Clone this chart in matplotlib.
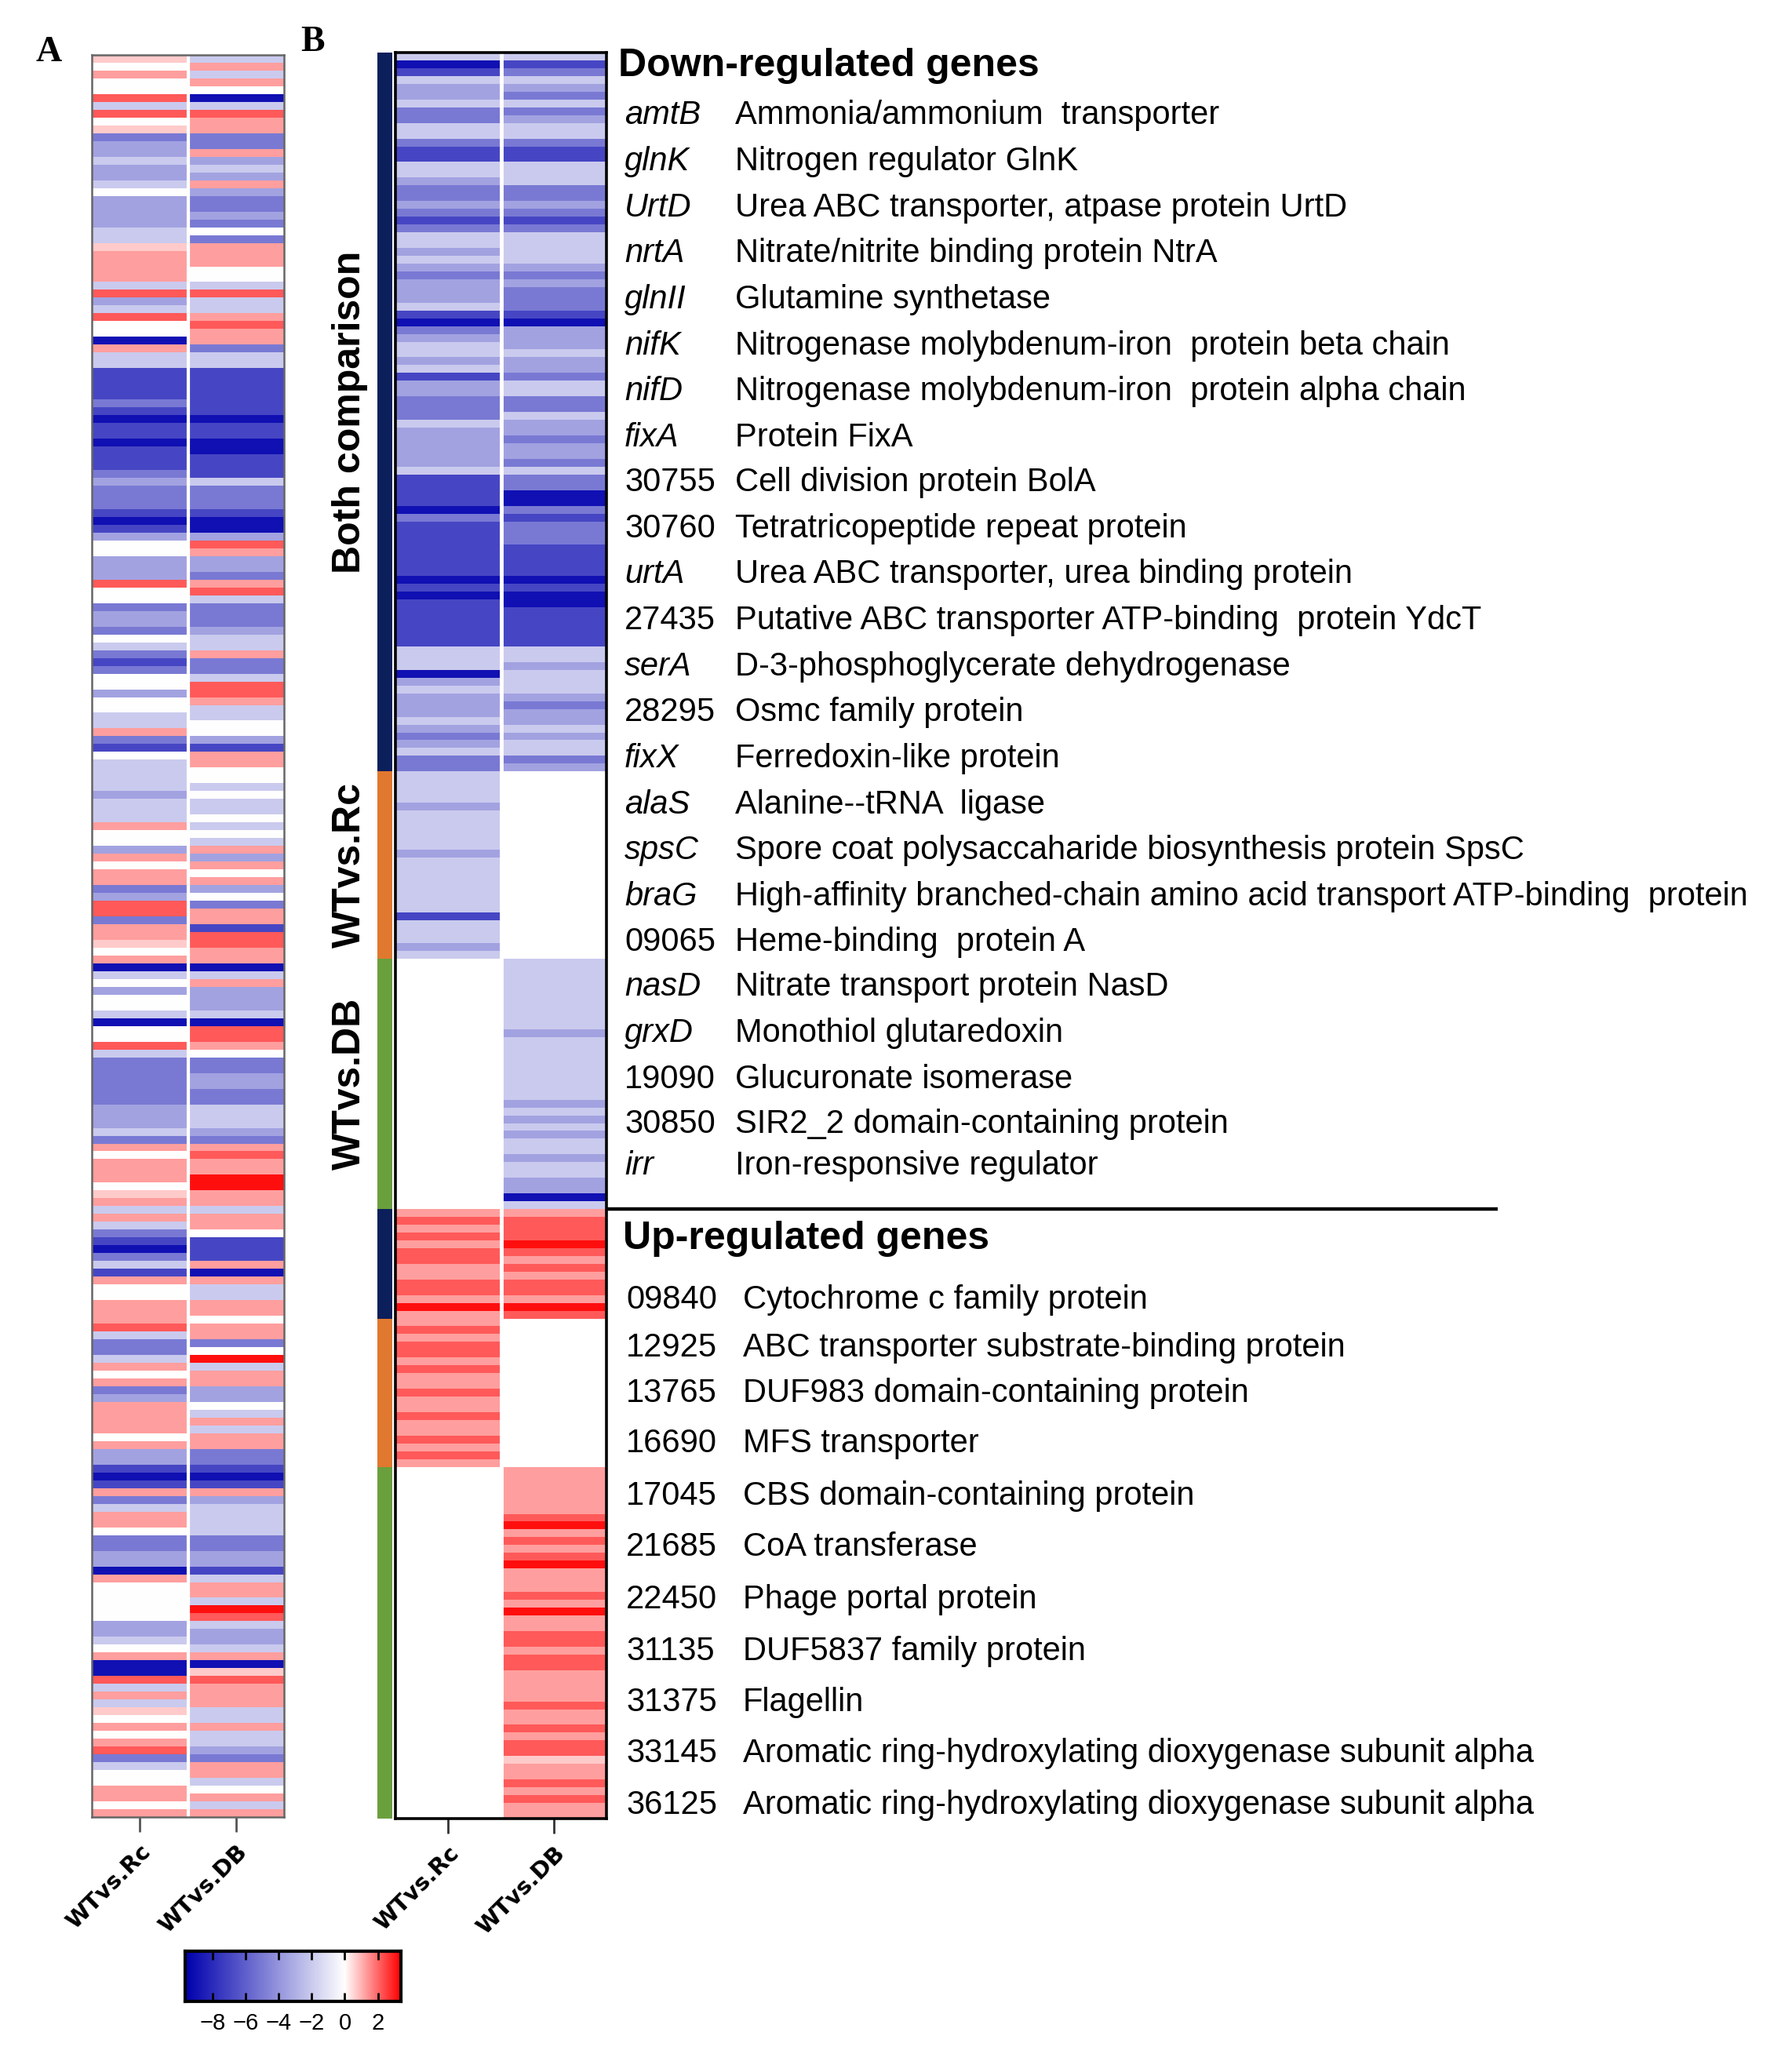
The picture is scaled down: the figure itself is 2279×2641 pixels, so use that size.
import numpy as np
import matplotlib
matplotlib.use("Agg")
import matplotlib.pyplot as plt
from matplotlib.colors import LinearSegmentedColormap, TwoSlopeNorm, ListedColormap
from matplotlib import transforms

# ---------------- data ----------------
# one character per gene (row); code -> log2 fold change
code_values = {'0': 0.0, '1': -2.0, '2': -3.5, '3': -5.0, '4': -7.0, '5': -9.0,
               'a': 0.7, 'b': 1.3, 'c': 2.2, 'd': 3.2}
columns = ["WTvs.Rc", "WTvs.DB"]

# Panel A (all genes)
A_rc = ("a0b00c1c0a" "3221221022" "2211abbbb1" "c21c005b11" "4444345445" "44432333"
        "45" "4200222c00" "3223013430" "020011b340" "11112111b0" "02b0bb32cc" "3bb"
        "a" "0b5102" "001500c133" "333322213b" "0bbb0ab1b1" "345314b00b" "bbc1331b0b" "3"
        "2bbbb0b22" "454b31bb03" "3225b00000" "2210b55c1b" "1a0b0bc310" "0bb0b")
A_db = ("1b1b051cbb" "33b212b233" "2303bbb001" "c11bcbb311" "4444445445" "54441333"
        "45" "52cb223bc1" "333211b331" "ccb110024b" "b001011010" "1b2b0b203b" "b4c"
        "c" "bb51b2" "2215ccb033" "223311123b" "cbbddbb1bb" "0444b5b11b" "b0bb30d1bb" "2"
        "201b1bb33" "454b211113" "32241bb1dc" "1221b5acbb" "b11b1123bb" "10b1b")

# Panel B, grouped by comparison
B_groups = ["Both comparison", "WTvs.Rc", "WTvs.DB"]
B_down_both_rc = ("1541221331" "1344112332" "3431121232" "2214532112" "1422333122"
                  "22214444" "5344444445" "4544444411" "1521222123" "2133")
B_down_both_db = ("1431231321" "1344111332" "3431111232" "3334522212" "2311331223"
                  "22313355" "3433344445" "4554444411" "2111232212" "1132")
B_down_rc_only = "111121111121111111411121"
B_down_db_only = "11111111121111111121212112112251"
B_up_both_rc = "bcbcbccbbccbdb"
B_up_both_db = "bcccdcbcbccbdc"
B_up_rc_only = "bcbccbcbbcbbcbbcbcb"
B_up_db_only = "bbbbbbcdbc" "bcdbbbcbdb" "bccbccbbbb" "cbbcbccabb" "cbcbb"

down_genes = ["amtB", "glnK", "UrtD", "nrtA", "glnII", "nifK", "nifD", "fixA", "30755",
              "30760", "urtA", "27435", "serA", "28295", "fixX", "alaS", "spsC", "braG",
              "09065", "nasD", "grxD", "19090", "30850", "irr"]
down_desc = ["Ammonia/ammonium  transporter", "Nitrogen regulator GlnK",
             "Urea ABC transporter, atpase protein UrtD", "Nitrate/nitrite binding protein NtrA",
             "Glutamine synthetase", "Nitrogenase molybdenum-iron  protein beta chain",
             "Nitrogenase molybdenum-iron  protein alpha chain", "Protein FixA",
             "Cell division protein BolA", "Tetratricopeptide repeat protein",
             "Urea ABC transporter, urea binding protein",
             "Putative ABC transporter ATP-binding  protein YdcT",
             "D-3-phosphoglycerate dehydrogenase", "Osmc family protein",
             "Ferredoxin-like protein", "Alanine--tRNA  ligase",
             "Spore coat polysaccaharide biosynthesis protein SpsC",
             "High-affinity branched-chain amino acid transport ATP-binding  protein",
             "Heme-binding  protein A", "Nitrate transport protein NasD",
             "Monothiol glutaredoxin", "Glucuronate isomerase",
             "SIR2_2 domain-containing protein", "Iron-responsive regulator"]
up_genes = ["09840", "12925", "13765", "16690", "17045", "21685", "22450", "31135",
            "31375", "33145", "36125"]
up_desc = ["Cytochrome c family protein", "ABC transporter substrate-binding protein",
           "DUF983 domain-containing protein", "MFS transporter",
           "CBS domain-containing protein", "CoA transferase", "Phage portal protein",
           "DUF5837 family protein", "Flagellin",
           "Aromatic ring-hydroxylating dioxygenase subunit alpha",
           "Aromatic ring-hydroxylating dioxygenase subunit alpha"]

cbar_ticks = [-8, -6, -4, -2, 0, 2]
vmin, vmax = -9.67, 3.4


def decode(s):
    return np.array([code_values[c] for c in s], dtype=float)


# ---------------- build matrices ----------------
A_mat = np.column_stack([decode(A_rc), decode(A_db)])

sec_rc = [B_down_both_rc, B_down_rc_only, None, B_up_both_rc, B_up_rc_only, None]
sec_db = [B_down_both_db, None, B_down_db_only, B_up_both_db, None, B_up_db_only]
sec_grp = [0, 1, 2, 0, 1, 2]
rc_parts, db_parts, grp_parts, sec_len = [], [], [], []
for r, d, g in zip(sec_rc, sec_db, sec_grp):
    n = len(r) if r is not None else len(d)
    rc_parts.append(decode(r) if r is not None else np.full(n, np.nan))
    db_parts.append(decode(d) if d is not None else np.full(n, np.nan))
    grp_parts.append(np.full(n, g))
    sec_len.append(n)
B_mat = np.column_stack([np.concatenate(rc_parts), np.concatenate(db_parts)])
B_grp = np.concatenate(grp_parts).reshape(-1, 1)
nB = B_mat.shape[0]

# ---------------- figure ----------------
W, H = 2279, 2641
fig = plt.figure(figsize=(W / 100, H / 100), dpi=100)


def rect(x0, y0, x1, y1):
    return [x0 / W, 1 - y1 / H, (x1 - x0) / W, (y1 - y0) / H]


cmap = LinearSegmentedColormap.from_list("bwr_fc", [(0, "#0000AE"), (0.5, "#FFFFFF"), (1, "#FF0000")])
cmap.set_bad("white")
norm = TwoSlopeNorm(vmin=vmin, vcenter=0, vmax=vmax)

tick_font = dict(family="DejaVu Sans", fontweight="bold", fontsize=21)

# Panel A
axA = fig.add_axes(rect(117, 70, 362, 2316))
axA.imshow(A_mat, aspect="auto", interpolation="nearest", cmap=cmap, norm=norm)
axA.axvline(0.5, color="white", lw=3)
axA.set_yticks([])
axA.set_xticks([0, 1])
axA.set_xticklabels(columns, rotation=45, ha="right", va="top", rotation_mode="anchor", **tick_font)
axA.tick_params(axis="x", length=14, width=2, color="#555555", pad=8)
for s in axA.spines.values():
    s.set_color("#666666")
    s.set_linewidth(1.8)

# Panel B heatmap
axB = fig.add_axes(rect(504, 67, 773, 2318))
axB.imshow(B_mat, aspect="auto", interpolation="nearest", cmap=cmap, norm=norm)
axB.axvline(0.5, color="white", lw=3.5)
axB.set_yticks([])
axB.set_xticks([0, 1])
axB.set_xticklabels(columns, rotation=45, ha="right", va="top", rotation_mode="anchor", **tick_font)
axB.tick_params(axis="x", length=14, width=2, color="#333333", pad=8)
for s in axB.spines.values():
    s.set_color("black")
    s.set_linewidth(2.6)

# group strip
axS = fig.add_axes(rect(481, 67, 500, 2318))
axS.imshow(B_grp, aspect="auto", interpolation="nearest",
           cmap=ListedColormap(["#0B1F5B", "#E0782F", "#6A9F3D"]), vmin=-0.5, vmax=2.5)
axS.set_axis_off()

# group labels (down-regulated part)
trS = transforms.blended_transform_factory(axS.transAxes, axS.transData)
start = 0
for i in range(3):
    mid = start + sec_len[i] / 2 - 0.5
    axS.text(-1.85, mid, B_groups[i], rotation=90, ha="center", va="center",
             family="Liberation Sans", fontweight="bold", fontsize=36, transform=trS)
    start += sec_len[i]

# separator line between down and up genes
n_down = sum(sec_len[:3])
trB = transforms.blended_transform_factory(axB.transAxes, axB.transData)
axB.plot([1.0, (1909 - 504) / 269], [n_down - 0.5, n_down - 0.5], color="black", lw=3.2,
         transform=trB, clip_on=False, solid_capstyle="butt")

# panel letters
fig.text(62 / W, 1 - 67 / H, "A", family="Liberation Serif", fontweight="bold", fontsize=33,
         ha="center", va="center")
fig.text(399 / W, 1 - 54 / H, "B", family="Liberation Serif", fontweight="bold", fontsize=33,
         ha="center", va="center")

# gene text
txt = dict(family="Liberation Sans", fontsize=30, va="center")
fig.text(788 / W, 1 - 84 / H, "Down-regulated genes", family="Liberation Sans",
         fontweight="bold", fontsize=36, va="center")
down_y = [88, 123, 158, 193, 228, 263, 298, 333, 367, 402, 437, 472, 507, 542, 577,
          612, 647, 682, 717, 751, 786, 821, 855, 887]
for g, d, yd in zip(down_genes, down_desc, down_y):
    y = 1 - yd * 1.6757 / H
    fig.text(796 / W, y, g, style="normal" if g[0].isdigit() else "italic", **txt)
    fig.text(937 / W, y, d, **txt)

fig.text(794 / W, 1 - 1579 / H, "Up-regulated genes", family="Liberation Sans",
         fontweight="bold", fontsize=36, va="center")
up_y = [989, 1025, 1060, 1098, 1138, 1177, 1217, 1256, 1295, 1334, 1373]
for g, d, yd in zip(up_genes, up_desc, up_y):
    y = 1 - yd * 1.6757 / H
    fig.text(798 / W, y, g, **txt)
    fig.text(947 / W, y, d, **txt)

# colorbar
cax = fig.add_axes(rect(236, 2487, 511, 2551))
grad = np.linspace(vmin, vmax, 600).reshape(1, -1)
cax.imshow(grad, aspect="auto", cmap=cmap, norm=norm, extent=(vmin, vmax, 0, 1))
cax.set_xlim(vmin, vmax)
cax.set_yticks([])
cax.set_xticks(cbar_ticks)
cax.set_xticklabels(["\u2212" + str(abs(t)) if t < 0 else str(t) for t in cbar_ticks],
                    family="Liberation Sans", fontsize=21)
cax.tick_params(axis="x", direction="in", top=True, bottom=True, length=8, width=2, pad=10)
for s in cax.spines.values():
    s.set_linewidth(3)

fig.savefig("out.png", dpi=100)
